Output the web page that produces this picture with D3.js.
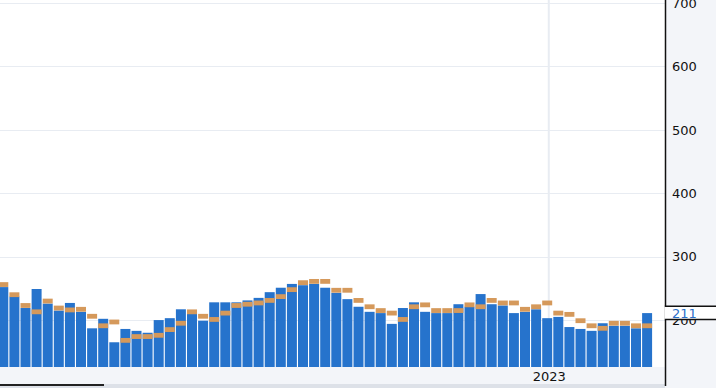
<!DOCTYPE html>
<html lang="en">
<head>
  <meta charset="UTF-8">
  <title>Weekly Claims</title>
  <script src="https://d3js.org/d3.v7.min.js"></script>
  <style>
    html, body { margin: 0; padding: 0; background: #fff; }
    text { font-family: "DejaVu Sans", sans-serif; font-size: 13px; fill: #111; }
  </style>
</head>
<body>
  <svg id="chart" width="716" height="388"></svg>
  <script>
    // week ending dates
    const weeks = [
      '2022-01-22', '2022-01-29', '2022-02-05', '2022-02-12', '2022-02-19', '2022-02-26',
      '2022-03-05', '2022-03-12', '2022-03-19', '2022-03-26', '2022-04-02', '2022-04-09',
      '2022-04-16', '2022-04-23', '2022-04-30', '2022-05-07', '2022-05-14', '2022-05-21',
      '2022-05-28', '2022-06-04', '2022-06-11', '2022-06-18', '2022-06-25', '2022-07-02',
      '2022-07-09', '2022-07-16', '2022-07-23', '2022-07-30', '2022-08-06', '2022-08-13',
      '2022-08-20', '2022-08-27', '2022-09-03', '2022-09-10', '2022-09-17', '2022-09-24',
      '2022-10-01', '2022-10-08', '2022-10-15', '2022-10-22', '2022-10-29', '2022-11-05',
      '2022-11-12', '2022-11-19', '2022-11-26', '2022-12-03', '2022-12-10', '2022-12-17',
      '2022-12-24', '2022-12-31', '2023-01-07', '2023-01-14', '2023-01-21', '2023-01-28',
      '2023-02-04', '2023-02-11', '2023-02-18', '2023-02-25', '2023-03-04'
    ];
    const actual = [
      252, 237, 219, 249, 226, 215, 227, 213, 187, 202, 165, 186,
      183, 180, 200, 203, 217, 210, 199, 228, 228, 228, 231, 235,
      244, 251, 257, 255, 257, 251, 243, 233, 221, 213, 211, 194,
      219, 228, 213, 211, 211, 225, 221, 241, 225, 223, 211, 213,
      217, 203, 205, 189, 186, 183, 195, 191, 191, 187, 211
    ];
    const forecast = [
      256, 240, 223, 213, 230, 219, 216, 217, 206, 191, 197, 168,
      174, 174, 176, 185, 195, 213, 206, 201, 211, 223, 225, 227,
      231, 237, 248, 259, 261, 261, 247, 247, 231, 221, 215, 211,
      201, 221, 224, 215, 215, 215, 224, 221, 231, 227, 227, 217,
      221, 227, 211, 209, 199, 191, 187, 195, 195, 191, 191
    ];
    const yTicks = [200, 300, 400, 500, 600, 700];
    const yearTicks = ['2023-01-01'];

    const W = 716, H = 388;
    const plotRight = 665, plotBottom = 367;
    const parse = d3.utcParse('%Y-%m-%d');
    const dates = weeks.map(parse);

    const x = d3.scaleUtc()
      .domain([dates[0], dates[dates.length - 1]])
      .range([3.3, 647.1]);
    const y = d3.scaleLinear()
      .domain([126, 700])
      .range([plotBottom, 3]);

    const barW = (x(dates[1]) - x(dates[0])) * 0.9;

    const svg = d3.select('#chart');

    const clip = svg.append('defs').append('clipPath').attr('id', 'plot')
      .append('rect').attr('x', 0).attr('y', 0).attr('width', plotRight).attr('height', plotBottom);

    // panels
    svg.append('rect').attr('x', plotRight).attr('y', 0).attr('width', W - plotRight).attr('height', H)
      .attr('fill', '#f3f5f9');
    svg.append('rect').attr('x', 0).attr('y', plotBottom).attr('width', plotRight).attr('height', 17)
      .attr('fill', '#f3f5f9');

    // grid
    const grid = svg.append('g').attr('clip-path', 'url(#plot)');
    grid.selectAll('.hgrid')
      .data(yTicks)
      .enter().append('line')
      .attr('x1', 0).attr('x2', plotRight)
      .attr('y1', d => Math.round(y(d)) + 0.5).attr('y2', d => Math.round(y(d)) + 0.5)
      .attr('stroke', '#e8ecf2');
    grid.selectAll('.vgrid')
      .data(yearTicks.map(parse))
      .enter().append('line')
      .attr('x1', d => x(d)).attr('x2', d => x(d))
      .attr('y1', 0).attr('y2', plotBottom)
      .attr('stroke', '#e8ecf2').attr('stroke-width', 2);

    // bars + forecast markers
    const marks = svg.append('g').attr('clip-path', 'url(#plot)');
    marks.selectAll('.bar')
      .data(actual)
      .enter().append('rect')
      .attr('x', (d, i) => x(dates[i]) - barW / 2)
      .attr('y', d => y(d))
      .attr('width', barW)
      .attr('height', d => plotBottom - y(d))
      .attr('fill', '#2673cc');
    marks.selectAll('.fc')
      .data(forecast)
      .enter().append('rect')
      .attr('x', (d, i) => x(dates[i]) - barW / 2)
      .attr('y', d => y(d) - 2.4)
      .attr('width', barW)
      .attr('height', 4.8)
      .attr('fill', '#d5995b');

    // x axis
    const xAxis = svg.append('g')
      .attr('transform', `translate(0,${plotBottom})`)
      .call(d3.axisBottom(x).tickValues(yearTicks.map(parse)).tickFormat(d3.utcFormat('%Y')).tickSize(0));
    xAxis.select('.domain').remove();
    xAxis.selectAll('text').attr('dy', '0.35em').attr('y', 9).style('font-size', '13px');

    // navigator strip
    svg.append('rect').attr('x', 0).attr('y', 384).attr('width', plotRight).attr('height', 4)
      .attr('fill', '#dde1e8');
    svg.append('line').attr('x1', 0).attr('x2', 104).attr('y1', 385).attr('y2', 385)
      .attr('stroke', '#222').attr('stroke-width', 2);

    // y axis
    const yAxis = svg.append('g')
      .attr('transform', `translate(${plotRight},0)`)
      .call(d3.axisRight(y).tickValues(yTicks).tickSize(0).tickPadding(7));
    yAxis.select('.domain').remove();
    yAxis.selectAll('text').style('font-size', '13px');

    svg.append('line')
      .attr('x1', plotRight + 0.5).attr('x2', plotRight + 0.5)
      .attr('y1', 0).attr('y2', 386)
      .attr('stroke', '#111').attr('stroke-width', 1.5);

    // last value label
    const last = actual[actual.length - 1];
    const ly = y(last);
    svg.append('rect').attr('x', plotRight - 0.5).attr('y', ly - 6.8).attr('width', W - plotRight + 1).attr('height', 13.6)
      .attr('fill', '#fff');
    svg.append('line').attr('x1', plotRight - 0.2).attr('x2', W).attr('y1', ly - 6.8).attr('y2', ly - 6.8)
      .attr('stroke', '#111').attr('stroke-width', 1.5);
    svg.append('line').attr('x1', plotRight - 0.2).attr('x2', W).attr('y1', ly + 6.5).attr('y2', ly + 6.5)
      .attr('stroke', '#111').attr('stroke-width', 1.5);
    svg.append('text')
      .attr('x', plotRight + 7).attr('y', ly).attr('dy', '0.35em')
      .style('fill', '#2a70c9')
      .text(last);
  </script>
</body>
</html>
